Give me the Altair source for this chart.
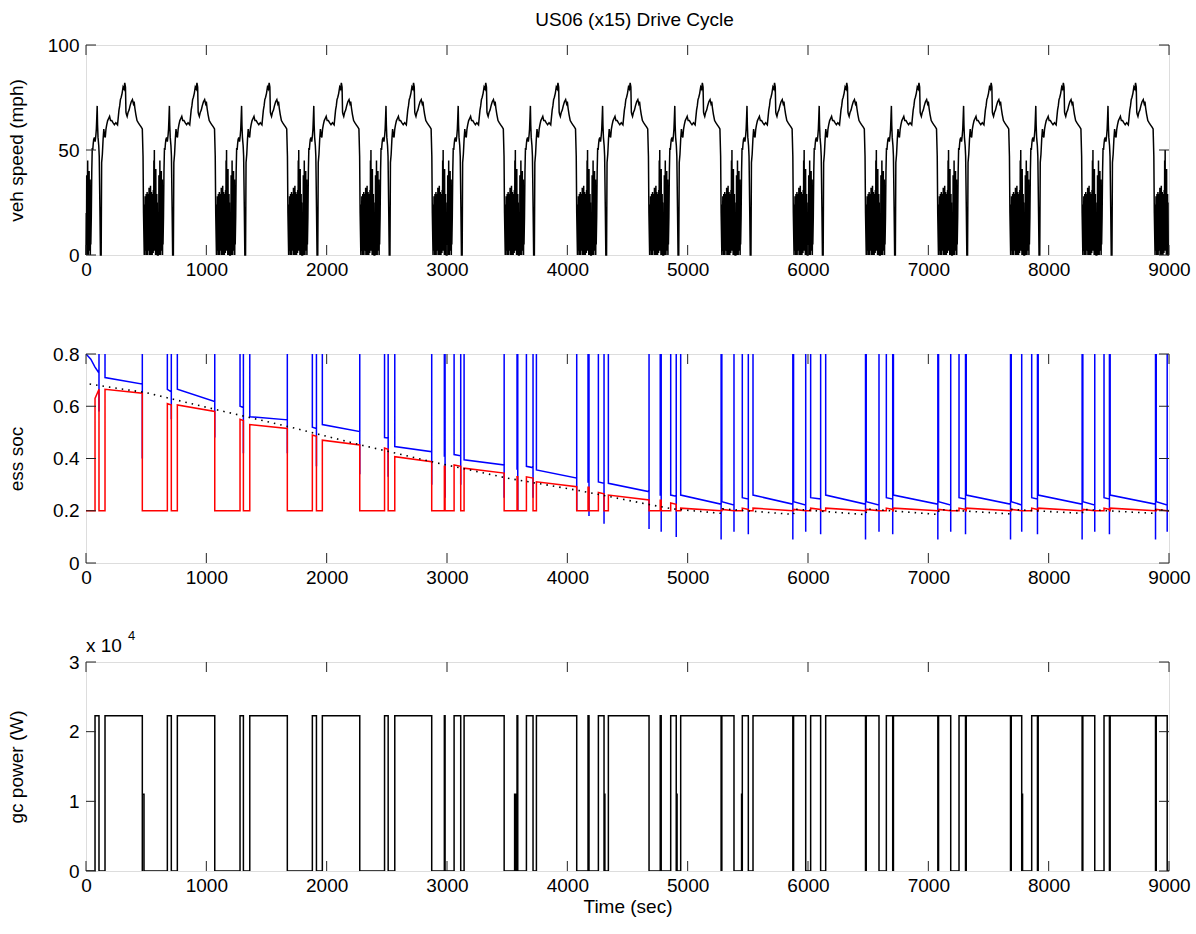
import altair as alt
import pandas as pd

# ---------------- values ----------------
# One US06 cycle (seconds into cycle, mph); the run repeats it 15 times (x15)
CYC_T = [0, 2, 4, 6, 8, 10, 12, 14, 16, 18, 20, 22, 24, 26, 28, 30, 32, 34, 36, 38, 40,
         44, 48, 52, 56, 60, 64, 70, 76, 82, 86, 90, 93, 96, 100, 106, 110, 116, 120, 126, 130,
         136, 142, 148, 154, 160, 166, 172, 180, 188, 196, 204, 214, 224, 236, 248, 262, 274,
         280, 286, 292, 300, 308, 316, 322, 328, 332, 336, 342, 350, 358, 366, 376, 386, 394,
         400, 406, 414, 424, 434, 446, 458, 468, 474, 478, 484, 488,
         490, 492, 494, 496, 498, 500, 502, 504, 506, 508, 510, 512, 514, 516, 518, 520, 522,
         524, 526, 528, 530, 532, 534, 536, 538, 540, 542, 544, 546, 548, 550, 552, 554, 556,
         558, 560, 562, 564, 566, 568, 570, 572, 574, 576, 578, 580, 582, 584, 586, 588, 590,
         592, 594, 596, 598]
CYC_V = [0, 20, 2, 38, 0, 30, 4, 45, 8, 34, 0, 28, 6, 40, 2, 25, 10, 36, 0, 22, 5,
         18, 40, 51, 50, 53, 55, 56, 54, 57, 60, 66, 71, 62, 56, 52, 47, 20, 0, 0, 44,
         48, 55, 60, 57, 56, 60, 62, 64, 65, 66, 64, 64, 63, 62, 63, 62,
         69, 71, 74, 75, 77, 80, 79, 82, 80, 68, 67, 66, 68, 69, 71, 73, 74,
         72, 73, 70, 67, 64, 63, 62, 61, 60, 47, 20, 0,
         24, 2, 28, 5, 27, 0, 29, 3, 26, 6, 30, 0, 28, 4, 27, 2, 29,
         5, 32, 0, 30, 3, 28, 6, 33, 0, 27, 2, 30, 5, 26, 0, 29, 4,
         28, 1, 31, 3, 45, 5, 50, 2, 30, 6, 28, 0, 41, 4, 27, 0, 29,
         3, 25, 0, 0]
N_CYC = 15
CYC_LEN = 600

# generator (gc) on-intervals, seconds
ON_START = [75, 158, 676, 759, 1280, 1361, 1881, 1964, 2481, 2566,
            2978, 3059, 3142, 3582, 3660, 3743, 4172, 4258, 4341, 4772,
            4859, 4942, 5284, 5454, 5543, 5880, 6022, 6147, 6484, 6651,
            6710, 7085, 7255, 7315, 7689, 7859, 7913, 8284, 8460, 8511, 8894]
ON_END = [108, 468, 709, 1070, 1308, 1673, 1915, 2275, 2511, 2873,
          2984, 3114, 3475, 3588, 3715, 4078, 4180, 4305, 4679, 4780,
          4905, 5278, 5385, 5504, 5874, 5981, 6105, 6478, 6590, 6704,
          7079, 7186, 7309, 7683, 7776, 7907, 8278, 8383, 8505, 8888, 8985]
GC_ON_W = 22300
HALF_START = [468, 3562, 4305, 4905, 5448, 7776]
HALF_END = [482, 3570, 4312, 4912, 5454, 7783]
HALF_W = 11000

# ess soc during each on-interval (red trace, blue trace), floor and off-scale values
RED_A = [0.63, 0.665, 0.61, 0.605, 0.55, 0.53, 0.49, 0.47, 0.44, 0.407,
         0.37, 0.375, 0.363, 0.33, 0.33, 0.311, 0.29, 0.27, 0.26, 0.24,
         0.23, 0.21, 0.205, 0.21, 0.21, 0.205, 0.21, 0.21, 0.205, 0.21,
         0.21, 0.205, 0.21, 0.21, 0.205, 0.21, 0.21, 0.205, 0.21, 0.21, 0.205]
RED_B = [0.665, 0.65, 0.605, 0.58, 0.545, 0.515, 0.485, 0.452, 0.435, 0.388,
         0.37, 0.37, 0.344, 0.33, 0.325, 0.292, 0.29, 0.265, 0.241, 0.24,
         0.225, 0.2, 0.2, 0.205, 0.2, 0.2, 0.205, 0.2, 0.2, 0.205,
         0.2, 0.2, 0.205, 0.2, 0.2, 0.205, 0.2, 0.2, 0.205, 0.2, 0.2]
BLUE_A = [0.75, 0.71, 0.665, 0.665, 0.6, 0.56, 0.52, 0.53, 0.48, 0.446,
          0.41, 0.415, 0.395, 0.36, 0.37, 0.356, 0.31, 0.31, 0.305, 0.26,
          0.26, 0.26, 0.235, 0.25, 0.26, 0.235, 0.25, 0.26, 0.235, 0.25,
          0.26, 0.235, 0.25, 0.26, 0.235, 0.25, 0.26, 0.235, 0.25, 0.26, 0.235]
BLUE_B = [0.727, 0.685, 0.655, 0.618, 0.595, 0.548, 0.515, 0.503, 0.478, 0.426,
          0.41, 0.41, 0.375, 0.36, 0.365, 0.325, 0.31, 0.305, 0.273, 0.26,
          0.255, 0.225, 0.222, 0.245, 0.225, 0.222, 0.245, 0.225, 0.222, 0.245,
          0.225, 0.222, 0.245, 0.225, 0.222, 0.245, 0.225, 0.222, 0.245, 0.225, 0.222]
BLUE_DIP = [0.58, 0.4, 0.55, 0.48, 0.42, 0.42, 0.37, 0.34, 0.33, 0.3,
            0.25, 0.3, 0.25, 0.2, 0.25, 0.2, 0.18, 0.15, 0.13, 0.12,
            0.1, 0.09, 0.12, 0.11, 0.09, 0.12, 0.11, 0.09, 0.12, 0.11,
            0.09, 0.12, 0.11, 0.09, 0.12, 0.11, 0.09, 0.12, 0.11, 0.09, 0.12]
BLUE_T0 = [0, 40]
BLUE_V0 = [0.8, 0.78]
RED_FLOOR = 0.2
BLUE_OFF = 1.0  # off the top of the 0-0.8 axis

# black dotted soc trace
DOT_T = [30, 500, 1100, 1700, 2300, 2900, 3500, 4100, 4700, 4880, 5280, 5290, 5880, 5890,
         6480, 6490, 7080, 7090, 7680, 7690, 8280, 8290, 8880, 8890, 9000]
DOT_V = [0.685, 0.652, 0.585, 0.52, 0.45, 0.385, 0.325, 0.277, 0.222, 0.207, 0.19, 0.207,
         0.186, 0.206, 0.185, 0.207, 0.186, 0.205, 0.188, 0.205, 0.19, 0.205, 0.19, 0.205, 0.2]

X_TICKS = [0, 1000, 2000, 3000, 4000, 5000, 6000, 7000, 8000, 9000]
SPD_TICKS = [0, 50, 100]
SOC_TICKS = [0, 0.2, 0.4, 0.6, 0.8]
GC_TICKS = [0, 10000, 20000, 30000]

# ---------------- tables ----------------
spd_rows = []
for k in range(N_CYC):
    for tc, v in zip(CYC_T, CYC_V):
        spd_rows.append((k * CYC_LEN + tc, v))
spd = pd.DataFrame(spd_rows, columns=["t", "y"])
spd["i"] = range(len(spd))

red_pts = [(0, RED_FLOOR)]
blue_pts = list(zip(BLUE_T0, BLUE_V0))
for n, (s, e) in enumerate(zip(ON_START, ON_END)):
    red_pts += [(s, RED_FLOOR), (s, RED_A[n]), (e, RED_B[n]), (e, RED_FLOOR)]
    if n > 0:
        blue_pts.append((s, BLUE_OFF))
    blue_pts += [(s, BLUE_A[n]), (e, BLUE_B[n]), (e, BLUE_DIP[n]), (e, BLUE_OFF)]
red_pts.append((9000, RED_FLOOR))
blue_pts.append((9000, BLUE_OFF))
red = pd.DataFrame(red_pts, columns=["t", "y"])
red["i"] = range(len(red))
blue = pd.DataFrame(blue_pts, columns=["t", "y"])
blue["i"] = range(len(blue))
dot = pd.DataFrame({"t": DOT_T, "y": DOT_V})
dot["i"] = range(len(dot))

ev = [(s, e, GC_ON_W) for s, e in zip(ON_START, ON_END)]
ev += [(s, e, HALF_W) for s, e in zip(HALF_START, HALF_END)]
ev.sort()
gc_pts = [(0, 0)]
for s, e, w in ev:
    gc_pts += [(s, 0), (s, w), (e, w), (e, 0)]
gc_pts.append((9000, 0))
gc = pd.DataFrame(gc_pts, columns=["t", "y"])
gc["i"] = range(len(gc))

# ---------------- chart ----------------
FONT = "Liberation Sans"
FS = 19
FRAME = "#222222"
W = 1083
H1, H2, H3 = 210, 209, 209
TL = 10

XS = alt.Scale(domain=[0, 9000], nice=False, zero=False)


def x_axis(title):
    kw = dict(values=X_TICKS, format="d", labelFont=FONT, labelFontSize=FS,
              labelColor="black", labelPadding=5, labelFlush=False,
              labelOverlap=False, domain=False, ticks=False, tickSize=0, grid=False)
    if title:
        kw.update(title=title, titleFont=FONT, titleFontSize=FS,
                  titleFontWeight="normal", titleColor="black", titlePadding=2)
    else:
        kw.update(title=None)
    return alt.Axis(**kw)


def y_axis(values, title, h, expr):
    return alt.Axis(values=values, labelExpr=expr, labelFont=FONT, labelFontSize=FS,
                    labelColor="black", labelPadding=7, labelFlush=False,
                    labelOverlap=False, domain=False, ticks=False, tickSize=0, grid=False,
                    title=title, titleFont=FONT, titleFontSize=FS, titleFontWeight="normal",
                    titleColor="black", titleX=-60, titleY=h / 2, titleAngle=270,
                    titleAlign="center", titleBaseline="bottom")


def panel(layers, yticks, ys, yax, xax, h):
    xenc = alt.X("t:Q", scale=XS, axis=xax)
    yenc = alt.Y("y:Q", scale=ys, axis=yax)
    xt = pd.DataFrame({"t": X_TICKS})
    yt = pd.DataFrame({"y": yticks})
    ticks = [
        alt.Chart(xt).mark_rule(color=FRAME, strokeWidth=1).encode(
            x=xenc, y=alt.value(h), y2=alt.value(h - TL)),
        alt.Chart(xt).mark_rule(color=FRAME, strokeWidth=1).encode(
            x=xenc, y=alt.value(0), y2=alt.value(TL)),
        alt.Chart(yt).mark_rule(color=FRAME, strokeWidth=1).encode(
            y=yenc, x=alt.value(0), x2=alt.value(TL)),
        alt.Chart(yt).mark_rule(color=FRAME, strokeWidth=1).encode(
            y=yenc, x=alt.value(W), x2=alt.value(W - TL)),
    ]
    built = [mk(xenc, yenc) for mk in layers]
    return alt.layer(*built, *ticks).properties(width=W, height=h)


def line_of(df, color, clip=False, dash=None, width=1.5):
    def mk(xenc, yenc):
        kw = dict(color=color, strokeWidth=width, clip=clip)
        if dash:
            kw["strokeDash"] = dash
        return alt.Chart(df).mark_line(**kw).encode(x=xenc, y=yenc, order=alt.Order("i:Q"))
    return mk


# panel 1: vehicle speed
ys1 = alt.Scale(domain=[0, 100], nice=False)
p1 = panel([line_of(spd, "black", width=1.5)], SPD_TICKS, ys1,
           y_axis(SPD_TICKS, "veh speed (mph)", H1, "format(datum.value, 'd')"),
           x_axis(None), H1).properties(
    title=alt.TitleParams(text="US06 (x15) Drive Cycle", font=FONT, fontSize=FS,
                          fontWeight="normal", color="black", anchor="middle",
                          baseline="alphabetic", offset=-9, dx=7))

# panel 2: ess soc
ys2 = alt.Scale(domain=[0, 0.8], nice=False)
p2 = panel([line_of(blue, "#0000ff", clip=True, width=1.5),
            line_of(red, "#ff0000", clip=True, width=1.5),
            line_of(dot, "black", dash=[1.5, 5], width=1.6)],
           SOC_TICKS, ys2,
           y_axis(SOC_TICKS, "ess soc", H2,
                  "datum.value == 0 ? '0' : format(datum.value, '.1f')"),
           x_axis(None), H2)

# panel 3: gc power
ys3 = alt.Scale(domain=[0, 30000], nice=False)
exp_df = pd.DataFrame({"s": ["x 10"]})
sup_df = pd.DataFrame({"s": ["4"]})


def exp_label(xenc, yenc):
    return alt.Chart(exp_df).mark_text(font=FONT, fontSize=FS, align="left",
                                       baseline="alphabetic", color="black").encode(
        text="s:N", x=alt.value(0), y=alt.value(-10))


def sup_label(xenc, yenc):
    return alt.Chart(sup_df).mark_text(font=FONT, fontSize=13, align="left",
                                       baseline="alphabetic", color="black").encode(
        text="s:N", x=alt.value(42), y=alt.value(-22))


p3 = panel([line_of(gc, "black", clip=True, width=1.5), exp_label, sup_label],
           GC_TICKS, ys3,
           y_axis(GC_TICKS, "gc power (W)", H3, "format(datum.value / 10000, 'd')"),
           x_axis("Time (sec)"), H3)

chart = alt.vconcat(p1, p2, p3, spacing=99, bounds="flush").properties(
    padding={"left": 6, "top": 10, "right": 4, "bottom": 8},
    background="white",
).configure_view(stroke=FRAME, strokeWidth=1).configure(font=FONT)

chart.save("out.html", embed_options={"renderer": "svg", "actions": False})
